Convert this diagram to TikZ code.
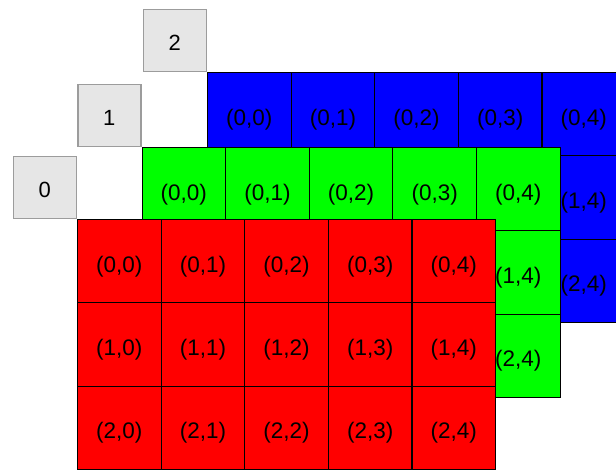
\documentclass[tikz,border=0pt]{standalone}
\usepackage{fontspec}
\setmainfont{Liberation Sans}
\usetikzlibrary{positioning}
\definecolor{LayerRed}{HTML}{FF0000}
\definecolor{LayerGreen}{HTML}{00FF00}
\definecolor{LayerBlue}{HTML}{0000FF}
\definecolor{TagFill}{HTML}{E6E6E6}
\definecolor{TagEdge}{HTML}{9C9C9C}

\begin{document}
\begin{tikzpicture}[
      x=1pt, y=-1pt,
      cell/.style={draw=black, line width=1.1pt, anchor=north west,
                   minimum width=83.6pt, minimum height=83.3pt, inner sep=0pt,
                   text height=22pt, text depth=0pt,
                   font=\fontsize{22.5}{26}\selectfont, text=black},
      tag/.style={draw=TagEdge, fill=TagFill, line width=1.4pt, anchor=south east,
                  minimum width=63pt, minimum height=62pt, inner sep=0pt,
                  text height=20pt, text depth=0pt,
                  font=\fontsize{22}{26}\selectfont}
    ]
      \useasboundingbox (0,0) rectangle (616,469);

      % back layer first, front layer last; hidden labels are left out
      \foreach \layer/\ox/\oy/\col in {2/207/72/LayerBlue, 1/141.5/147/LayerGreen, 0/77/219/LayerRed} {
        \foreach \r in {0,1,2}
          \foreach \c in {0,...,4} {
            \pgfmathtruncatemacro{\shown}{\layer==0 || \r==0 || \c==4}
            \node[cell, fill=\col] (g\layer-\r\c) at (\ox+\c*83.6, \oy+\r*83.3)
              {\ifnum\shown=1 (\r,\c)\fi};
          }
        \node[tag] (tag\layer) at (g\layer-00.north west) {\layer};
      }
    \end{tikzpicture}
\end{document}
